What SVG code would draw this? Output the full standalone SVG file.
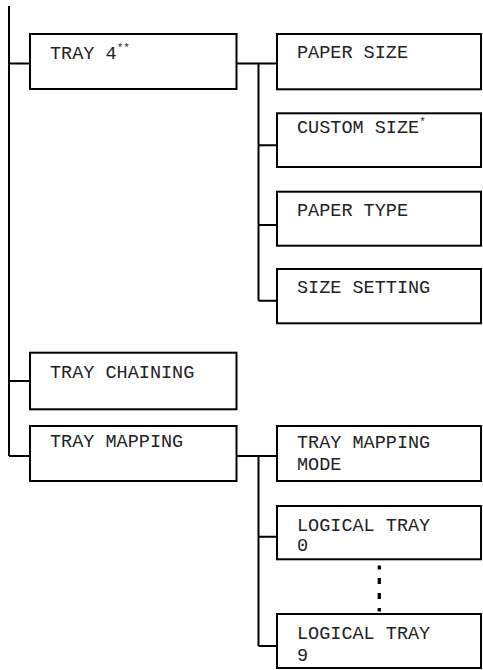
<svg xmlns="http://www.w3.org/2000/svg" width="483" height="670" viewBox="0 0 483 670">
<style>
.box{fill:#fff;stroke:#000;stroke-width:2}
.ln{fill:none;stroke:#000;stroke-width:2}
.dots{fill:none;stroke:#000;stroke-width:3.3}
text{font-family:"Liberation Mono","Courier New",monospace;font-size:18.5px;fill:#222}
.sup{font-size:11px}
</style>
<rect width="483" height="670" fill="#fff"/>
<g id="connectors">
<path class="ln" d="M9 6V456M9 63.5H30M9 381H30M9 456H30"/>
<path class="ln" d="M236.5 63.5H277M258.5 63.5V300.7M258.5 145.3H277M258.5 225H277M258.5 300.7H277"/>
<path class="ln" d="M236.5 456H277M258.5 456V646M258.5 536.7H277M258.5 646H277"/>
<path class="dots" d="M379.3 565.5V569.5M379.3 578V584M379.3 593V599M379.3 608V611.5"/>
</g>
<g id="tray4"><rect class="box" x="30" y="34" width="206.5" height="55"/><text x="50" y="59">TRAY 4<tspan class="sup" dy="-8">**</tspan></text></g>
<g id="traychaining"><rect class="box" x="30" y="352.7" width="206.5" height="56.6"/><text x="50" y="377.7">TRAY CHAINING</text></g>
<g id="traymapping"><rect class="box" x="30" y="426" width="206.5" height="55"/><text x="50" y="447">TRAY MAPPING</text></g>
<g id="papersize"><rect class="box" x="277" y="34" width="204" height="55.3"/><text x="297" y="58.3">PAPER SIZE</text></g>
<g id="customsize"><rect class="box" x="277" y="113.3" width="204" height="53.7"/><text x="297" y="133.3">CUSTOM SIZE<tspan class="sup" dy="-8">*</tspan></text></g>
<g id="papertype"><rect class="box" x="277" y="191.7" width="204" height="54"/><text x="297" y="216">PAPER TYPE</text></g>
<g id="sizesetting"><rect class="box" x="277" y="269" width="204" height="54.3"/><text x="297" y="292.7">SIZE SETTING</text></g>
<g id="traymappingmode"><rect class="box" x="277" y="426" width="204" height="55"/><text x="297" y="448">TRAY MAPPING</text><text x="297" y="469.5">MODE</text></g>
<g id="logicaltray0"><rect class="box" x="277" y="506" width="204" height="53.3"/><text x="297" y="530.7">LOGICAL TRAY</text><text x="297" y="550.7">0</text></g>
<g id="logicaltray9"><rect class="box" x="277" y="614" width="204" height="54"/><text x="297" y="639.3">LOGICAL TRAY</text><text x="297" y="660.7">9</text></g>
</svg>
